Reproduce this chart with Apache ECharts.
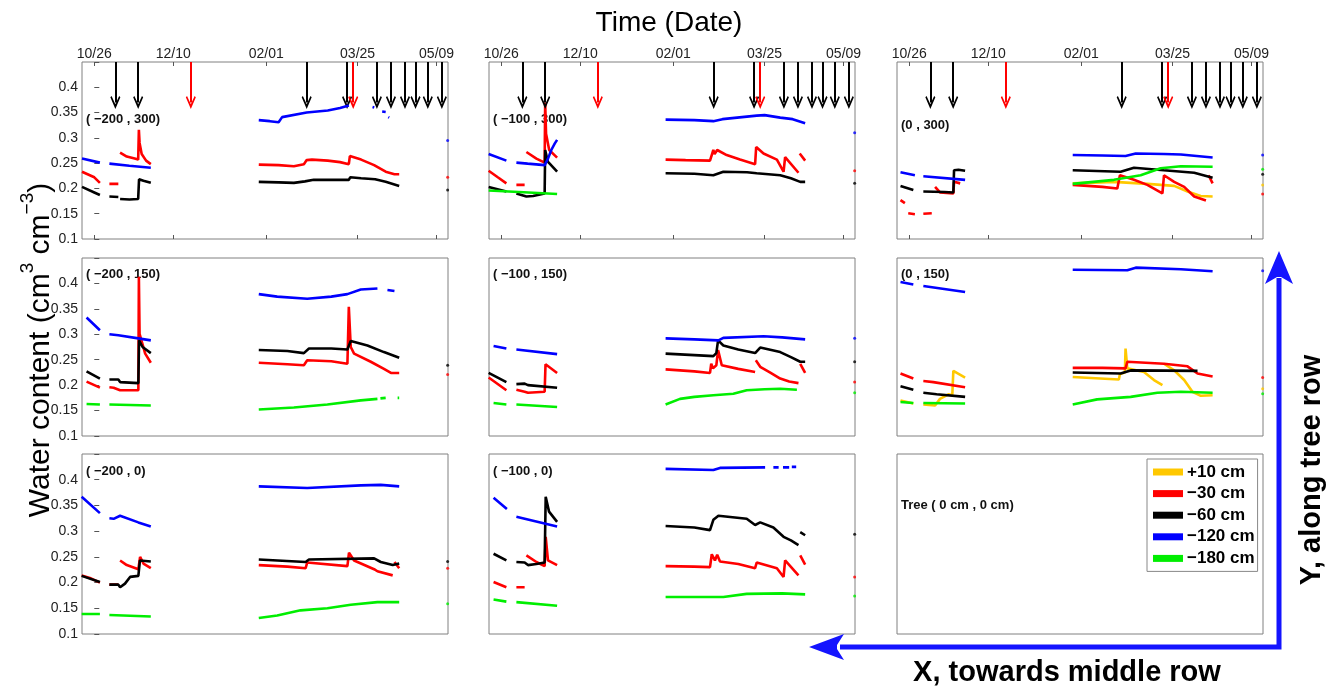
<!DOCTYPE html>
<html>
<head>
<meta charset="utf-8">
<script src="https://cdn.jsdelivr.net/npm/echarts@6/dist/echarts.min.js"></script>
<style>
  html, body { margin: 0; padding: 0; background: #fff; }
  #chart { width: 1338px; height: 687px; }
</style>
</head>
<body>
<div id="chart"></div>
<script>
// days counted from 10/26
var tickDays = [0, 45, 98, 150, 195]
var tickLabels = ['10/26', '12/10', '02/01', '03/25', '05/09']
var blackArrowDays = [12, 25, 121, 144, 161, 169, 177, 183, 190, 198]
var redArrowDays = [55, 147.5]
var depthNames = ['+10 cm', '\u221230 cm', '\u221260 cm', '\u2212120 cm', '\u2212180 cm']
var depthColors = ['#ffc800', '#ff0000', '#000000', '#0000ff', '#00ee00']
var EDGE_DAY = 201.3

// ( -200 , 300 )
var r1c1_red = [[-7, 0.233], [0, 0.222], [3.2, 0.211], null, [8.6, 0.209], [13.7, 0.209], null, [14.7, 0.271], [18.5, 0.263], [23, 0.259], [25, 0.257], [25.4, 0.316], [25.8, 0.29], [27, 0.268], [29.5, 0.255], [32.2, 0.248], null, [93.7, 0.247], [105, 0.246], [113.7, 0.244], [119.4, 0.248], [121, 0.256], [124, 0.257], [133, 0.255], [140, 0.252], [145, 0.248], [145.6, 0.264], [152, 0.257], [159.4, 0.246], [166, 0.233], [171, 0.228], [173.7, 0.228]]
var r1c1_black = [[-7, 0.203], [0, 0.192], [3.2, 0.187], null, [8.6, 0.184], [13.7, 0.183], null, [14.7, 0.179], [20, 0.178], [25, 0.179], [25.5, 0.218], [28, 0.215], [32.2, 0.211], null, [93.7, 0.213], [105, 0.212], [113.7, 0.211], [120, 0.214], [125, 0.217], [145, 0.217], [145.8, 0.222], [152, 0.22], [160, 0.218], [166, 0.213], [173.7, 0.205]]
var r1c1_blue = [[-7, 0.259], [3.2, 0.251], null, [8.6, 0.249], [20, 0.245], [32.2, 0.241], null, [93.7, 0.335], [100, 0.333], [105, 0.331], [107, 0.341], [121, 0.35], [133, 0.354], [140, 0.359], [145, 0.364], null, [158.5, 0.361], [159.5, 0.36], null, [164, 0.352], [166, 0.351], null, [167.5, 0.341], [168, 0.34]]
var r1c1_edge = [null, 0.222, 0.197, 0.295, null]

// ( -100 , 300 )
var r1c2_red = [[-7.2, 0.235], [-2, 0.222], [2.9, 0.21], null, [8.6, 0.207], [13.3, 0.207], null, [14.3, 0.272], [20, 0.259], [24.7, 0.251], [25, 0.37], [25.5, 0.308], [27.3, 0.276], [31.8, 0.261], null, [93.6, 0.257], [105, 0.256], [118.9, 0.255], [120.8, 0.276], [121.5, 0.268], [123, 0.276], [128.4, 0.266], [136, 0.257], [144.6, 0.248], [145.2, 0.282], [149.4, 0.269], [157, 0.257], [160.8, 0.233], [161.7, 0.262], [169.3, 0.231], null, [170, 0.269], [173.1, 0.255]]
var r1c2_black = [[-7.2, 0.203], [2.9, 0.194], null, [8.6, 0.19], [14.3, 0.184], [18.1, 0.185], [24.7, 0.19], [25, 0.276], [26.5, 0.253], [31.8, 0.233], null, [93.6, 0.23], [110, 0.229], [120.8, 0.226], [126.5, 0.233], [140, 0.232], [145.5, 0.23], [146, 0.233], [158.9, 0.226], [165, 0.22], [170.3, 0.213], [173.1, 0.213]]
var r1c2_blue = [[-7.2, 0.268], [2.9, 0.255], null, [8.6, 0.251], [15, 0.249], [24.7, 0.246], [26.5, 0.258], [28.5, 0.276], [30.5, 0.289], [31.8, 0.296], null, [93.6, 0.336], [110, 0.335], [120.8, 0.333], [126, 0.337], [145.5, 0.344], [150, 0.345], [158.9, 0.34], [166, 0.337], [173.1, 0.329]]
var r1c2_green = [[-7.2, 0.196], [10, 0.193], [31.8, 0.189]]
var r1c2_edge = [null, 0.235, 0.21, 0.31, null]

// ( 0 , 300 )
var r1c3_yellow = [[93.1, 0.21], [116.6, 0.213], [135.6, 0.209], [150.9, 0.205], [158.5, 0.194], [166, 0.185], [172.8, 0.184]]
var r1c3_red = [[-5, 0.177], [-2.5, 0.171], null, [-0.6, 0.151], [3.2, 0.149], null, [8, 0.15], [12.8, 0.151], null, [14.7, 0.203], [17.5, 0.192], [25.1, 0.19], [25.5, 0.213], [29, 0.21], null, [93.1, 0.207], [110, 0.203], [118.5, 0.2], [120, 0.226], [128, 0.217], [135.6, 0.207], [144.2, 0.19], [145.1, 0.226], [150.9, 0.213], [156.6, 0.203], [162.3, 0.184], [169, 0.176], null, [170.5, 0.226], [172.8, 0.21]]
var r1c3_black = [[-5, 0.205], [2.3, 0.197], null, [8, 0.194], [20, 0.193], [25.1, 0.192], [25.5, 0.236], [28, 0.237], [31.8, 0.235], null, [93.1, 0.236], [120.4, 0.233], [128, 0.241], [145, 0.236], [162.3, 0.231], [172.8, 0.221]]
var r1c3_blue = [[-5, 0.232], [3.2, 0.226], null, [8, 0.224], [31.8, 0.217], null, [93.1, 0.266], [110, 0.265], [123.2, 0.264], [129, 0.269], [145, 0.268], [154.7, 0.267], [172.8, 0.261]]
var r1c3_green = [[93.1, 0.209], [116.6, 0.217], [131.8, 0.226], [143.2, 0.24], [154.7, 0.244], [172.8, 0.243]]
var r1c3_edge = [0.207, 0.189, 0.228, 0.266, 0.238]

// ( -200 , 150 )
var r2c1_red = [[-4.4, 0.207], [3.2, 0.195], null, [8.6, 0.196], [11, 0.195], [14.7, 0.19], [25.1, 0.19], [25.4, 0.413], [25.8, 0.301], [29, 0.262], [32.2, 0.244], null, [93.7, 0.244], [110, 0.241], [119.4, 0.239], [121.3, 0.249], [135, 0.247], [144.2, 0.242], [145, 0.354], [146.1, 0.275], [148, 0.262], [157.5, 0.246], [165, 0.232], [169, 0.224], [173.7, 0.224]]
var r2c1_black = [[-4.4, 0.227], [3.2, 0.213], null, [8.6, 0.211], [13.7, 0.211], [14.7, 0.206], [25.1, 0.204], [25.5, 0.288], [27.5, 0.275], [32.2, 0.263], null, [93.7, 0.269], [110, 0.267], [119.4, 0.263], [122.3, 0.272], [135, 0.272], [144.2, 0.27], [146.1, 0.287], [155.6, 0.278], [165, 0.265], [173.7, 0.254]]
var r2c1_blue = [[-4.4, 0.333], [3.2, 0.308], null, [8.6, 0.3], [13.7, 0.298], [25.1, 0.292], [32.2, 0.288], null, [93.7, 0.379], [104.2, 0.374], [121.3, 0.37], [135, 0.374], [144.2, 0.379], [151.8, 0.388], [161.3, 0.39], null, [167, 0.387], [171, 0.385]]
var r2c1_green = [[-4.4, 0.163], [3.2, 0.162], null, [8.6, 0.162], [32.2, 0.16], null, [93.7, 0.152], [113.7, 0.156], [132.8, 0.162], [151.8, 0.17], [161.3, 0.173], null, [163, 0.174], [166, 0.175], null, [172.8, 0.175], [173.7, 0.175]]
var r2c1_edge = [null, 0.221, 0.239, null, null]

// ( -100 , 150 )
var r2c2_red = [[-7.2, 0.215], [2.9, 0.19], null, [8.6, 0.191], [13.3, 0.187], [15.2, 0.185], [24.7, 0.187], [25.2, 0.241], [31.8, 0.224], null, [93.6, 0.231], [110, 0.227], [118.9, 0.224], [119.6, 0.242], [120.6, 0.233], [122.5, 0.239], [123.5, 0.269], [125.6, 0.239], [135, 0.232], [144.6, 0.226], null, [145, 0.249], [147.5, 0.236], [153, 0.225], [158.9, 0.213], [164, 0.207], [169.3, 0.204], null, [170.3, 0.242], [173.1, 0.224]]
var r2c2_black = [[-7.2, 0.224], [2.9, 0.206], null, [8.6, 0.202], [13.3, 0.203], [15.2, 0.2], [31.8, 0.195], null, [93.6, 0.262], [110, 0.259], [120.8, 0.257], [122.5, 0.263], [123.5, 0.288], [126.5, 0.278], [135, 0.27], [144.6, 0.263], [147.5, 0.274], [158.9, 0.265], [165, 0.255], [170.3, 0.246], [173.1, 0.246]]
var r2c2_blue = [[-4.4, 0.277], [2.9, 0.272], null, [8.6, 0.27], [31.8, 0.261], null, [93.6, 0.292], [110, 0.29], [123.7, 0.288], [126.5, 0.293], [149.4, 0.296], [160, 0.294], [173.1, 0.29]]
var r2c2_green = [[-4.4, 0.165], [2.9, 0.162], null, [8.6, 0.162], [31.8, 0.157], null, [93.6, 0.162], [101.8, 0.173], [110, 0.177], [120.8, 0.18], [132.2, 0.183], [139.8, 0.19], [150, 0.192], [158.9, 0.193], [168.4, 0.191]]
var r2c2_edge = [null, 0.206, 0.246, 0.292, 0.185]

// ( 0 , 150 )
var r2c3_yellow = [[-5, 0.17], [2.3, 0.164], null, [8, 0.162], [14.7, 0.16], [17.5, 0.173], [22.3, 0.182], [24.5, 0.18], [25.1, 0.228], [31.8, 0.215], null, [93.1, 0.216], [119.4, 0.211], [120, 0.222], [122.8, 0.225], [123.2, 0.272], [124.2, 0.233], [133.7, 0.226], [139.4, 0.21], [144.2, 0.2], null, [145.1, 0.242], [150.9, 0.229], [156.6, 0.21], [161.3, 0.187], [166.1, 0.179], [172.8, 0.18]]
var r2c3_red = [[-5, 0.223], [2.3, 0.213], null, [8, 0.208], [13.7, 0.206], [31.8, 0.196], null, [93.1, 0.234], [110, 0.234], [123.2, 0.233], [124.2, 0.246], [145.1, 0.242], [158.5, 0.237], [164.2, 0.223], [172.8, 0.217]]
var r2c3_black = [[-5, 0.198], [2.3, 0.191], null, [8, 0.185], [15.6, 0.182], [31.8, 0.177], null, [93.1, 0.225], [120.4, 0.223], [126.1, 0.229], [164.2, 0.228]]
var r2c3_blue = [[-5, 0.403], [2.3, 0.398], null, [8, 0.395], [31.8, 0.383], null, [93.1, 0.427], [124.2, 0.426], [129, 0.431], [154.7, 0.428], [172.8, 0.424]]
var r2c3_green = [[-5, 0.167], [2.3, 0.165], null, [8, 0.165], [31.8, 0.164], null, [93.1, 0.162], [107, 0.172], [126.1, 0.177], [141.3, 0.185], [154.7, 0.187], [172.8, 0.185]]
var r2c3_edge = [0.193, 0.215, null, 0.425, 0.183]

// ( -200 , 0 )
var r3c1_red = [[-7.2, 0.214], [-2.5, 0.209], [3.2, 0.2], null, [8.6, 0.196], [13.7, 0.196], null, [14.7, 0.243], [18.5, 0.234], [25.1, 0.226], [26.1, 0.25], [28, 0.237], [32.2, 0.228], null, [93.7, 0.234], [110, 0.231], [120.4, 0.228], [121.3, 0.239], [144.2, 0.232], [145.1, 0.258], [148, 0.243], [159.4, 0.226], [161.3, 0.222], [170, 0.214], null, [171, 0.24], [173.7, 0.228]]
var r3c1_black = [[-7.2, 0.213], [3.2, 0.201], null, [8.6, 0.196], [13.7, 0.196], [14.7, 0.191], [17.5, 0.198], [20.4, 0.211], [25.1, 0.213], [26, 0.243], [32.2, 0.241], null, [93.7, 0.245], [120.4, 0.24], [122.3, 0.245], [159.4, 0.247], [163.2, 0.24], [170, 0.234], [173.7, 0.237]]
var r3c1_blue = [[-7.2, 0.367], [3.2, 0.335], null, [8.6, 0.325], [11, 0.324], [14.7, 0.33], [25.1, 0.317], [32.2, 0.309], null, [93.7, 0.387], [121.3, 0.384], [151.8, 0.389], [163.2, 0.39], [173.7, 0.387]]
var r3c1_green = [[-7.2, 0.139], [3.2, 0.139], null, [8.6, 0.137], [32.2, 0.134], null, [93.7, 0.131], [104.2, 0.136], [117.5, 0.146], [132.8, 0.15], [146.1, 0.157], [161.3, 0.162], [173.7, 0.162]]
var r3c1_edge = [null, 0.228, 0.241, null, 0.159]

// ( -100 , 0 )
var r3c2_red = [[-4.4, 0.201], [2.9, 0.191], null, [8.6, 0.191], [13.3, 0.191], null, [14.3, 0.253], [20, 0.24], [24.7, 0.232], [25.3, 0.289], [26.6, 0.243], [31.8, 0.234], null, [93.6, 0.232], [110, 0.231], [118.9, 0.23], [119.9, 0.255], [121.7, 0.243], [123, 0.254], [124.6, 0.241], [135, 0.236], [144.6, 0.228], [145.5, 0.239], [157, 0.228], [160.8, 0.211], [161.7, 0.243], [169.3, 0.214], null, [170.3, 0.253], [173.1, 0.235]]
var r3c2_black = [[-4.4, 0.256], [2.9, 0.243], null, [8.6, 0.24], [13.3, 0.239], [15.2, 0.234], [20, 0.236], [24.7, 0.239], [25.3, 0.367], [27.2, 0.338], [31.8, 0.318], null, [93.6, 0.31], [110, 0.307], [118.9, 0.302], [120.8, 0.322], [123.7, 0.33], [139.8, 0.324], [144.6, 0.312], [147.5, 0.317], [155, 0.307], [160.8, 0.289], [165, 0.282], [169.3, 0.273], null, [170.3, 0.298], [173.1, 0.292]]
var r3c2_blue = [[-4.4, 0.365], [3.2, 0.343], null, [8.6, 0.328], [31.8, 0.309], null, [93.6, 0.421], [120.8, 0.419], [124.6, 0.423], [150.3, 0.424], null, [155, 0.424], [158, 0.424], null, [160.5, 0.424], [164, 0.424], null, [165.5, 0.425], [168, 0.425]]
var r3c2_green = [[-4.4, 0.167], [2.9, 0.163], null, [8.6, 0.162], [31.8, 0.155], null, [93.6, 0.172], [126.5, 0.172], [139.8, 0.178], [160, 0.179], [173.1, 0.177]]
var r3c2_edge = [null, 0.211, 0.294, null, 0.174]

var panels = [
  { row: 0, col: 0, label: '( \u2212200 , 300)', lines: [null, r1c1_red, r1c1_black, r1c1_blue, null], edge: r1c1_edge },
  { row: 0, col: 1, label: '( \u2212100 , 300)', lines: [null, r1c2_red, r1c2_black, r1c2_blue, r1c2_green], edge: r1c2_edge },
  { row: 0, col: 2, label: '(0 , 300)', lines: [r1c3_yellow, r1c3_red, r1c3_black, r1c3_blue, r1c3_green], edge: r1c3_edge },
  { row: 1, col: 0, label: '( \u2212200 , 150)', lines: [null, r2c1_red, r2c1_black, r2c1_blue, r2c1_green], edge: r2c1_edge },
  { row: 1, col: 1, label: '( \u2212100 , 150)', lines: [null, r2c2_red, r2c2_black, r2c2_blue, r2c2_green], edge: r2c2_edge },
  { row: 1, col: 2, label: '(0 , 150)', lines: [r2c3_yellow, r2c3_red, r2c3_black, r2c3_blue, r2c3_green], edge: r2c3_edge },
  { row: 2, col: 0, label: '( \u2212200 , 0)', lines: [null, r3c1_red, r3c1_black, r3c1_blue, r3c1_green], edge: r3c1_edge },
  { row: 2, col: 1, label: '( \u2212100 , 0)', lines: [null, r3c2_red, r3c2_black, r3c2_blue, r3c2_green], edge: r3c2_edge },
  { row: 2, col: 2, label: 'Tree ( 0 cm , 0 cm)', lines: [null, null, null, null, null], edge: [null, null, null, null, null] }
]

var FONT = 'Liberation Sans, Arial, Helvetica, sans-serif'
var colLeft = [82, 489, 897]
var rowTop = [62, 258, 454]
var rowHeight = [177, 178, 180]
var labelTop = [113, 268, 465]
var GW = 366
var chevron = 'path://M5,0 L10,9 L8.8,10 L5,3.6 L1.2,10 L0,9 Z'

var chart = echarts.init(document.getElementById('chart'))

var grids = []
var xAxes = []
var yAxes = []
var series = []
var graphics = []

panels.forEach(function (p, gi) {
  grids.push({
    left: colLeft[p.col], top: rowTop[p.row], width: GW, height: rowHeight[p.row],
    show: true, borderColor: '#808080', borderWidth: 1, backgroundColor: 'transparent'
  })
  var top = p.row === 0
  var xi = xAxes.length
  xAxes.push({
    type: 'value', gridIndex: gi, min: -7, max: 201.5,
    position: top ? 'top' : 'bottom',
    axisLine: { show: false },
    splitLine: { show: false },
    axisTick: { show: top, inside: true, length: 4, lineStyle: { color: '#555' }, customValues: tickDays },
    axisLabel: {
      show: top, margin: 1, fontSize: 14, color: '#222', fontFamily: FONT, customValues: tickDays,
      formatter: function (v) { return tickLabels[tickDays.indexOf(v)] || '' }
    }
  })
  if (top) {
    xAxes.push({
      type: 'value', gridIndex: gi, min: -7, max: 201.5, position: 'bottom',
      axisLine: { show: false }, splitLine: { show: false }, axisLabel: { show: false },
      axisTick: { show: true, inside: true, length: 4, lineStyle: { color: '#555' }, customValues: tickDays }
    })
  }
  var yi = yAxes.length
  var first = p.col === 0
  yAxes.push({
    type: 'value', gridIndex: gi, min: 0.1, max: 0.45, interval: 0.05,
    axisLine: { show: false }, splitLine: { show: false },
    axisTick: { show: first, inside: true, length: 5, lineStyle: { color: '#555' } },
    axisLabel: {
      show: first, fontSize: 14, color: '#222', fontFamily: FONT, margin: 4,
      formatter: function (v) { return v > 0.44 ? '' : String(+v.toFixed(2)) }
    }
  })

  p.lines.forEach(function (d, k) {
    if (!d) return
    series.push({
      name: depthNames[k], type: 'line', xAxisIndex: xi, yAxisIndex: yi, data: d,
      showSymbol: false, connectNulls: false, silent: true, z: 2 + k,
      lineStyle: { width: 2.6, color: depthColors[k] },
      itemStyle: { color: depthColors[k] }
    })
  })
  p.edge.forEach(function (v, k) {
    if (v == null) return
    series.push({
      type: 'scatter', xAxisIndex: xi, yAxisIndex: yi, data: [[EDGE_DAY, v]],
      symbolSize: 3, silent: true, itemStyle: { color: depthColors[k] }
    })
  })

  if (top) {
    var arrows = []
    blackArrowDays.forEach(function (d) {
      arrows.push([{ coord: [d, 0.45], lineStyle: { color: '#000' } }, { coord: [d, 0.37] }])
    })
    redArrowDays.forEach(function (d) {
      arrows.push([{ coord: [d, 0.45], lineStyle: { color: '#ff0000' } }, { coord: [d, 0.37] }])
    })
    series.push({
      type: 'line', xAxisIndex: xi, yAxisIndex: yi, data: [], silent: true,
      markLine: {
        silent: true, animation: false, symbol: ['none', chevron], symbolSize: [10, 13],
        label: { show: false }, lineStyle: { type: 'solid', width: 2 },
        emphasis: { disabled: true }, data: arrows
      }
    })
  }

  graphics.push({
    type: 'text', left: colLeft[p.col] + 4, top: p.row === 0 && p.col === 2 ? labelTop[p.row] + 6 : (p.row === 2 && p.col === 2 ? 499 : labelTop[p.row]),
    style: { text: p.label, font: 'bold 13px ' + FONT, fill: '#111' }
  })
})

graphics.push(
  {
    type: 'text', left: 'center', top: 9,
    style: { text: 'Time (Date)', font: '28px ' + FONT, fill: '#000' }
  },
  {
    type: 'text', x: 37, y: 350, rotation: Math.PI / 2,
    style: {
      text: '{a|Water content (cm}{s|3}{a| cm}{s|\u22123}{a|)}',
      align: 'center', verticalAlign: 'middle',
      rich: {
        a: { fontSize: 30, fontFamily: FONT, fill: '#000', lineHeight: 38, verticalAlign: 'bottom' },
        s: { fontSize: 19, fontFamily: FONT, fill: '#000', lineHeight: 38, verticalAlign: 'top' }
      }
    }
  },
  {
    type: 'polyline', silent: true,
    shape: { points: [[1279, 278], [1279, 647], [840, 647]] },
    style: { stroke: '#1414ff', lineWidth: 5, fill: null }
  },
  {
    type: 'polygon', silent: true,
    shape: { points: [[1279, 251], [1293, 284], [1281, 277], [1277, 277], [1265, 284]] },
    style: { fill: '#1414ff' }
  },
  {
    type: 'polygon', silent: true,
    shape: { points: [[809, 647], [844, 634], [837, 645], [837, 649], [844, 660]] },
    style: { fill: '#1414ff' }
  },
  {
    type: 'text', x: 1067, y: 673,
    style: { text: 'X, towards middle row', font: 'bold 29px ' + FONT, fill: '#000', align: 'center', verticalAlign: 'middle' }
  },
  {
    type: 'text', x: 1312, y: 470, rotation: Math.PI / 2,
    style: { text: 'Y, along tree row', font: 'bold 29px ' + FONT, fill: '#000', align: 'center', verticalAlign: 'middle' }
  }
)

chart.setOption({
  animation: false,
  backgroundColor: '#fff',
  grid: grids,
  xAxis: xAxes,
  yAxis: yAxes,
  legend: {
    data: depthNames, orient: 'vertical', left: 1147, top: 459,
    icon: 'rect', itemWidth: 30, itemHeight: 7, itemGap: 1.6, selectedMode: false,
    padding: [3, 3, 3, 6], borderColor: '#888', borderWidth: 1, backgroundColor: '#fff',
    textStyle: { fontSize: 17, fontWeight: 'bold', fontFamily: FONT, color: '#000', lineHeight: 20, padding: [0, 0, 0, -1] }
  },
  series: series,
  graphic: graphics
})
</script>
</body>
</html>
